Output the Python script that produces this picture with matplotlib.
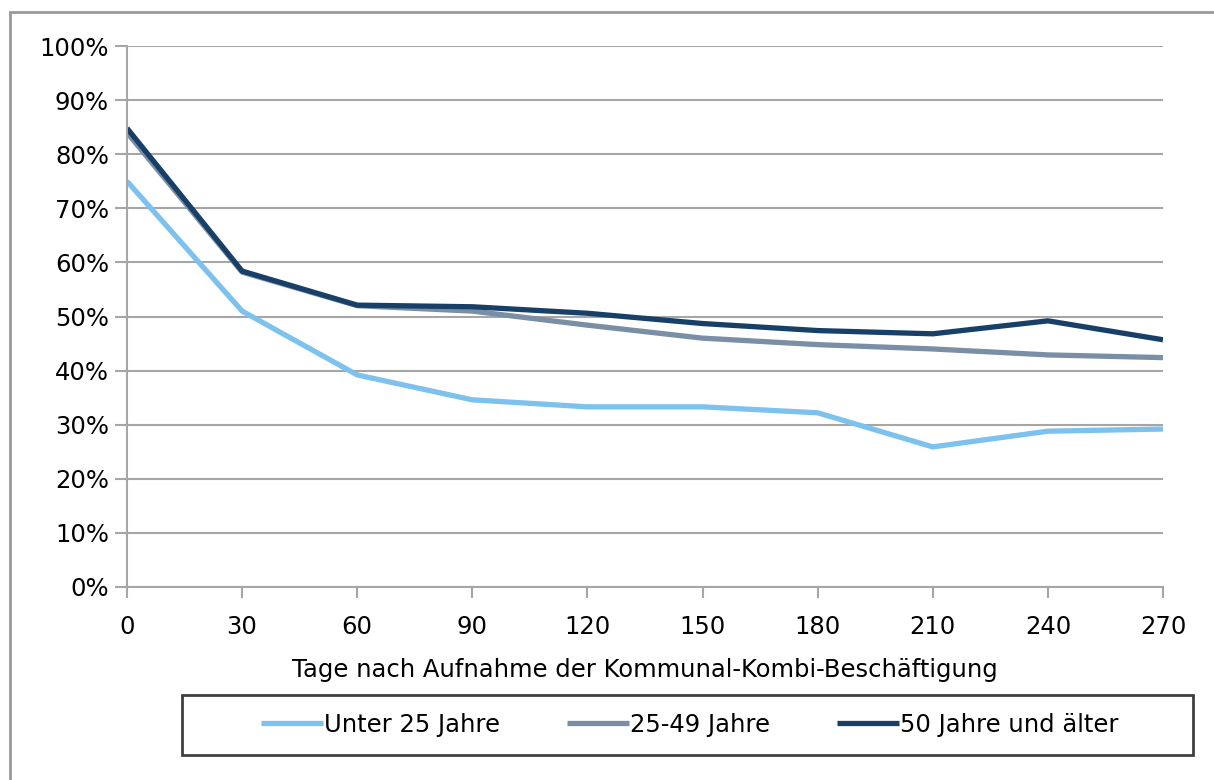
import matplotlib.pyplot as plt
from matplotlib.patches import Rectangle
from matplotlib.ticker import FuncFormatter

# Anteil noch beschäftigter Personen nach Altersgruppe
tage = [0, 30, 60, 90, 120, 150, 180, 210, 240, 270]
unter_25 = [75.0, 51.0, 39.2, 34.6, 33.3, 33.3, 32.2, 25.9, 28.8, 29.2]
j25_49 = [84.0, 58.2, 52.0, 51.0, 48.4, 46.0, 44.8, 44.0, 42.9, 42.4]
ab_50 = [84.8, 58.4, 52.1, 51.8, 50.6, 48.7, 47.4, 46.8, 49.2, 45.7]

labels = ["Unter 25 Jahre", "25-49 Jahre", "50 Jahre und älter"]
colors = ["#7dc1ee", "#7a8ea6", "#173f68"]

plt.rcParams["font.family"] = ["DejaVu Sans"]
plt.rcParams["font.size"] = 17.5

fig = plt.figure(figsize=(12.14, 7.8), dpi=100)
ax = fig.add_axes([127 / 1214, 1 - 587 / 780, (1163 - 127) / 1214, (587 - 46) / 780])

for series, label, color in zip([unter_25, j25_49, ab_50], labels, colors):
    ax.plot(tage, series, color=color, lw=3.8, label=label, solid_capstyle="butt")

ax.set_xlim(0, 270)
ax.set_ylim(0, 100)
ax.set_xticks(tage)
ax.set_yticks(range(0, 101, 10))
ax.yaxis.set_major_formatter(FuncFormatter(lambda v, p: f"{v:.0f}%"))
ax.grid(axis="y", color="#a6a6a6", lw=1.5)
ax.set_axisbelow(True)
for side in ["top", "right"]:
    ax.spines[side].set_visible(False)
for side in ["left", "bottom"]:
    ax.spines[side].set_color("#a6a6a6")
    ax.spines[side].set_linewidth(1.5)
ax.tick_params(axis="y", length=9, width=1.5, color="#a6a6a6", pad=4)
ax.tick_params(axis="x", length=8, width=1.5, color="#a6a6a6", pad=12)
ax.set_xlabel("Tage nach Aufnahme der Kommunal-Kombi-Beschäftigung", labelpad=14)

# Legende ohne eigenen Rahmen, Kasten separat
handles, lbls = ax.get_legend_handles_labels()
fig.legend(handles, lbls, loc="center", bbox_to_anchor=(690 / 1214, 1 - 725 / 780),
           ncol=3, frameon=False, handlelength=2.55, handletextpad=0.05,
           columnspacing=2.75)
fig.add_artist(Rectangle((182 / 1214, 1 - 755 / 780), (1193 - 182) / 1214, 60 / 780,
                         transform=fig.transFigure, fill=False, edgecolor="#404040", lw=2))

# Rahmen um das gesamte Diagramm
fig.add_artist(Rectangle((10 / 1214, -0.05), 1.1, 1 - 12 / 780 + 0.05,
                         transform=fig.transFigure, fill=False, edgecolor="#999999", lw=2,
                         clip_on=False))

fig.savefig("out.png", dpi=100)
